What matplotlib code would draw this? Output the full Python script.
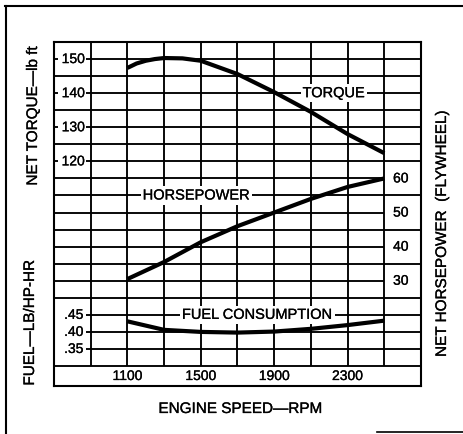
import matplotlib
matplotlib.use("Agg")
import matplotlib.pyplot as plt
from matplotlib.lines import Line2D
import matplotlib.patheffects as pe

plt.rcParams['font.family'] = ['Liberation Sans', 'DejaVu Sans']

# ---------------- data ----------------
torque_rpm = [1100, 1150, 1200, 1250, 1300, 1400, 1500, 1700, 1900, 2100, 2300, 2500]
torque_lbft = [147.4, 148.7, 149.5, 150.0, 150.3, 150.2, 149.5, 145.6, 140.3, 134.5, 128.0, 122.4]

hp_rpm = [1100, 1300, 1500, 1700, 1900, 2100, 2300, 2500]
hp_values = [30.5, 35.5, 41.3, 46.0, 50.0, 54.0, 57.5, 60.0]

fuel_rpm = [1100, 1300, 1500, 1700, 1900, 2100, 2300, 2500]
fuel_values = [0.431, 0.406, 0.400, 0.398, 0.401, 0.409, 0.420, 0.433]

rpm_ticks = [1100, 1500, 1900, 2300]
torque_ticks = [150, 140, 130, 120]
hp_ticks = [60, 50, 40, 30]
fuel_ticks = [0.45, 0.40, 0.35]
fuel_tick_labels = ['.45', '.40', '.35']

# ---------------- scale layout ----------------
X_MIN, X_MAX = 700, 2700
TQ_TOP, TQ_BOT = 155, 54.14     # torque scale (grid rows are every 5)
GRID_BOT = 60
HP_OFFSET = 55                  # HP value + 55 -> torque row
FUEL_SCALE, FUEL_OFFSET = 100, 30  # fuel*100 + 30 -> torque row

W, H = 463, 435
fig = plt.figure(figsize=(W / 100, H / 100), dpi=100)
fig.patch.set_facecolor('white')

TXT_FX = [pe.withStroke(linewidth=0.2, foreground='black')]


def fx(x):
    return x / W


def fy(y):
    return 1 - y / H


ax = fig.add_axes([fx(54), fy(387), (421 - 54) / W, (387 - 43) / H])
ax.set_xlim(X_MIN, X_MAX)
ax.set_ylim(TQ_BOT, TQ_TOP)
ax.set_xticks([])
ax.set_yticks([])
for s in ax.spines.values():
    s.set_linewidth(1.5)
    s.set_color('black')

ax_hp = ax.twinx()
ax_hp.set_ylim(TQ_BOT - HP_OFFSET, TQ_TOP - HP_OFFSET)
ax_fuel = ax.twinx()
ax_fuel.set_ylim((TQ_BOT - FUEL_OFFSET) / FUEL_SCALE, (TQ_TOP - FUEL_OFFSET) / FUEL_SCALE)
for a in (ax_hp, ax_fuel):
    a.set_yticks([])
    for s in a.spines.values():
        s.set_visible(False)

# ---------------- grid ----------------
GRID_LW = 1.35
left_label_rows = set(torque_ticks) | {round(v * FUEL_SCALE + FUEL_OFFSET) for v in fuel_ticks}
right_label_rows = {v + HP_OFFSET for v in hp_ticks}
for r in range(GRID_BOT, TQ_TOP, 5):
    x0 = 875 if r in left_label_rows else X_MIN
    x1 = 2500 if r in right_label_rows else X_MAX
    ax.hlines(r, x0, x1, color='black', lw=GRID_LW, zorder=1)
    if r in torque_ticks:
        ax.hlines(r, X_MIN, 720, color='black', lw=GRID_LW, zorder=1)
ax.vlines(range(900, 2600, 200), GRID_BOT, TQ_TOP, color='black', lw=GRID_LW, zorder=1)

# ---------------- curves ----------------
CURVE_LW = 3.0
ax.plot(torque_rpm, torque_lbft, color='black', lw=CURVE_LW, zorder=5, solid_capstyle='butt')
ax_hp.plot(hp_rpm, hp_values, color='black', lw=CURVE_LW, zorder=5, solid_capstyle='butt')
ax_fuel.plot(fuel_rpm, fuel_values, color='black', lw=CURVE_LW, zorder=5, solid_capstyle='butt')

# ---------------- tick labels (inside the frame) ----------------
TICK_FS = 10
for v in torque_ticks:
    ax.text(868, v, str(v), ha='right', va='center', fontsize=TICK_FS, zorder=3, path_effects=TXT_FX)
for v, lab in zip(fuel_ticks, fuel_tick_labels):
    ax_fuel.text(860, v, lab, ha='right', va='center', fontsize=TICK_FS, zorder=3, path_effects=TXT_FX)
for v in hp_ticks:
    ax_hp.text(2590, v, str(v), ha='center', va='center', fontsize=TICK_FS, zorder=3, path_effects=TXT_FX)
band_mid = (TQ_BOT + GRID_BOT) / 2
for v in rpm_ticks:
    ax.text(v, band_mid, str(v), ha='center', va='center', fontsize=TICK_FS, zorder=3, path_effects=TXT_FX)

# ---------------- curve labels ----------------
LBL_FS = 10.5
box = dict(facecolor='white', edgecolor='none', pad=1.5)
ax.text(2225, 140, 'TORQUE', ha='center', va='center', fontsize=LBL_FS, bbox=box, zorder=4, path_effects=TXT_FX)
ax_hp.text(1476, 55, 'HORSEPOWER', ha='center', va='center', fontsize=LBL_FS, bbox=box, zorder=4, path_effects=TXT_FX)
ax_fuel.text(1809, 0.45, 'FUEL CONSUMPTION', ha='center', va='center', fontsize=LBL_FS, bbox=box, zorder=4, path_effects=TXT_FX)

# ---------------- axis titles ----------------
TITLE_FS = 11
fig.text(fx(33), fy(117), 'NET TORQUE\u2014lb ft', rotation=90, ha='center', va='center', fontsize=TITLE_FS, path_effects=TXT_FX)
fig.text(fx(30), fy(324), 'FUEL\u2014LB/HP-HR', rotation=90, ha='center', va='center', fontsize=TITLE_FS, path_effects=TXT_FX)
fig.text(fx(442), fy(235), 'NET HORSEPOWER  (FLYWHEEL)', rotation=90, ha='center', va='center', fontsize=TITLE_FS, path_effects=TXT_FX)
fig.text(fx(240), fy(410), 'ENGINE SPEED\u2014RPM', ha='center', va='center', fontsize=TITLE_FS, path_effects=TXT_FX)

# ---------------- outer partial frame ----------------
fig.add_artist(Line2D([fx(5), fx(463)], [fy(7), fy(7)], color='black', lw=1.5, transform=fig.transFigure))
fig.add_artist(Line2D([fx(6), fx(6)], [fy(7), fy(435)], color='black', lw=1.5, transform=fig.transFigure))
fig.add_artist(Line2D([fx(377), fx(463)], [fy(433), fy(433)], color='black', lw=1.2, transform=fig.transFigure))

fig.savefig('out.png', dpi=100, facecolor='white')
